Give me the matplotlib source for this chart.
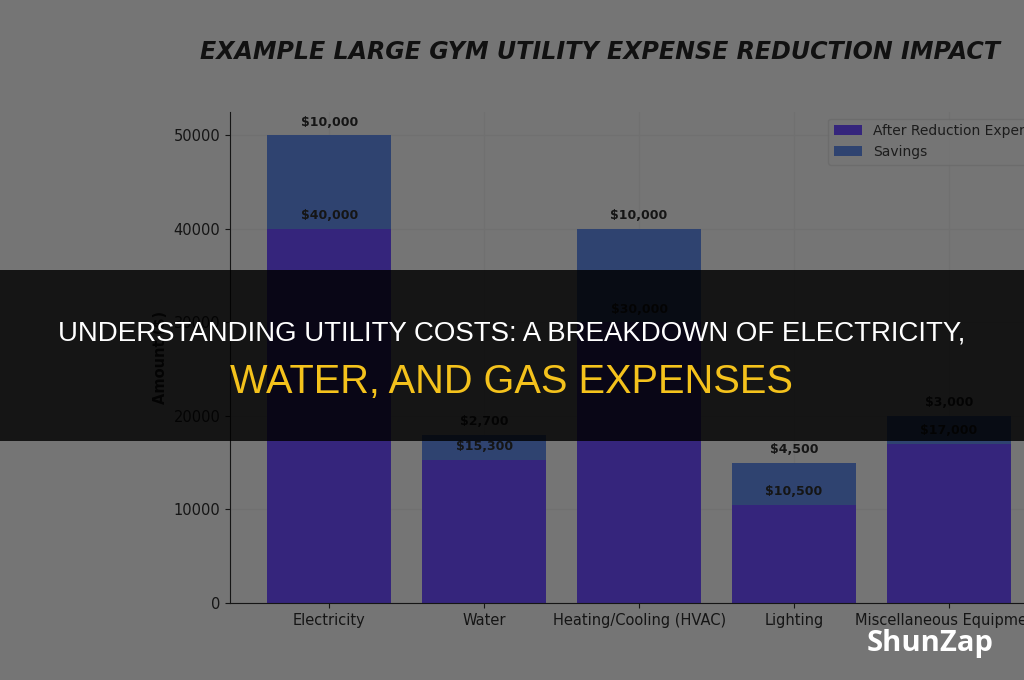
import matplotlib
matplotlib.use('Agg')
import matplotlib.pyplot as plt
from matplotlib.patches import Rectangle
import numpy as np

categories = ['Electricity', 'Water', 'Heating/Cooling (HVAC)', 'Lighting', 'Miscellaneous Equipment']
after_reduction = [40000, 15300, 30000, 10500, 17000]
savings = [10000, 2700, 10000, 4500, 3000]
yticks = [0, 10000, 20000, 30000, 40000, 50000]

chart_title = 'EXAMPLE LARGE GYM UTILITY EXPENSE REDUCTION IMPACT'
banner_line1 = 'UNDERSTANDING UTILITY COSTS: A BREAKDOWN OF ELECTRICITY,'
banner_line2 = 'WATER, AND GAS EXPENSES'

bg = '#757575'
ink = '#151515'
col_after = '#35257c'
col_save = '#2f4370'

fig = plt.figure(figsize=(10.24, 6.8), dpi=100, facecolor=bg)
ax = fig.add_axes([0.2246, 0.1132, 0.799, 0.7226])
ax.set_facecolor(bg)

x = np.arange(len(categories))
totals = [a + s for a, s in zip(after_reduction, savings)]
ax.bar(x, after_reduction, width=0.8, color=col_after, label='After Reduction Expenses', zorder=2)
ax.bar(x, savings, width=0.8, bottom=after_reduction, color=col_save, label='Savings', zorder=2)

for i in range(len(categories)):
    ax.text(x[i], after_reduction[i] + 700, '${:,}'.format(after_reduction[i]),
            ha='center', va='bottom', fontsize=9, fontweight='bold', color=ink, zorder=3)
    ax.text(x[i], totals[i] + 700, '${:,}'.format(savings[i]),
            ha='center', va='bottom', fontsize=9, fontweight='bold', color=ink, zorder=3)

ax.set_xticks(x)
ax.set_xticklabels(categories, fontsize=10.5, color='#1c1c1c')
ax.set_yticks(yticks)
ax.set_yticklabels([str(v) for v in yticks], fontsize=10.5, color='#1c1c1c')
ax.set_ylabel('Amount ($)', fontsize=10.5, fontweight='bold', color=ink)
ax.tick_params(colors=ink)
ax.grid(True, color='#707070', linewidth=0.8, zorder=0)
ax.set_axisbelow(True)
for s in ['top', 'right']:
    ax.spines[s].set_visible(False)
for s in ['left', 'bottom']:
    ax.spines[s].set_color(ink)

leg = ax.legend(loc='upper right', bbox_to_anchor=(1.018, 1.0), fontsize=10, frameon=True)
leg.get_frame().set_facecolor('#767676')
leg.get_frame().set_edgecolor('#6a6a6a')
for t in leg.get_texts():
    t.set_color('#1c1c1c')

fig.canvas.draw()
r = fig.canvas.get_renderer()

def fit(txt, target_px):
    w = txt.get_window_extent(r).width
    txt.set_fontsize(txt.get_fontsize() * target_px / w)

t0 = fig.text(0.586, 1 - 52 / 680, chart_title, ha='center', va='center', fontsize=30,
              fontweight='bold', fontstyle='italic', color='#111111',
              family=['DejaVu Sans'])
fit(t0, 800)

# dark banner across the middle
fig.patches.append(Rectangle((0, 1 - 441 / 680), 1, 171 / 680, transform=fig.transFigure,
                             facecolor='black', alpha=0.82, zorder=10))
t1 = fig.text(0.4995, 1 - 334 / 680, banner_line1, ha='center', va='center', fontsize=24,
              color='white', zorder=11, family=['Liberation Sans', 'DejaVu Sans'])
t2 = fig.text(0.4995, 1 - 382 / 680, banner_line2, ha='center', va='center', fontsize=34,
              color='#f4c21c', zorder=11, family=['Liberation Sans', 'DejaVu Sans'])
fit(t1, 909)
fit(t2, 563)

fig.text(0.908, 1 - 643 / 680, 'ShunZap', ha='center', va='center', fontsize=21,
         fontweight='bold', color='white', family=['Open Sans', 'DejaVu Sans'])

fig.savefig('out.png', dpi=100, facecolor=bg)
